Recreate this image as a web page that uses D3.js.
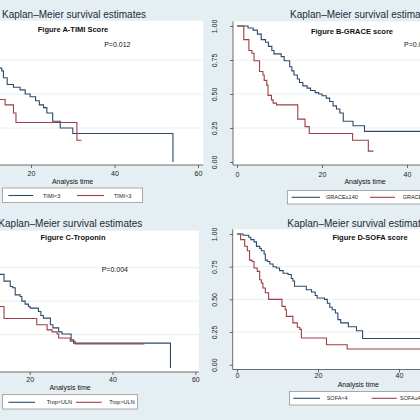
<!DOCTYPE html>
<html>
<head>
<meta charset="utf-8">
<script src="https://cdn.jsdelivr.net/npm/d3@7"></script>
<style>
  html, body { margin: 0; padding: 0; background: #e5eef2; overflow: hidden; }
  svg { display: block; font-family: "Liberation Sans", Arial, sans-serif; }
</style>
</head>
<body>
<div id="chart"></div>
<script>
// Kaplan-Meier estimates, as [analysis time, survival]
const timiLow = [[0, 1], [1.5, 0.98], [2.5, 0.96], [3.5, 0.94], [4.5, 0.92], [5.5, 0.9], [6.5, 0.87], [7.5, 0.84], [8.5, 0.81], [9.5, 0.78], [10.5, 0.75], [11.5, 0.72], [12.2, 0.69], [13.0, 0.67], [13.4, 0.62], [14.3, 0.57], [15.8, 0.55], [17.4, 0.53], [18.6, 0.5], [19.8, 0.48], [21.1, 0.45], [22.0, 0.42], [23.0, 0.4], [23.8, 0.36], [25.2, 0.3], [27.0, 0.25], [30.0, 0.21], [54, 0]];
const timiHigh = [[0, 1], [1.5, 0.93], [2.5, 0.86], [3.5, 0.79], [4.5, 0.72], [5.5, 0.66], [6.5, 0.61], [7.5, 0.57], [9.0, 0.53], [11.0, 0.49], [12.2, 0.46], [13.8, 0.42], [15.8, 0.36], [16.4, 0.29], [31.0, 0.16], [32.1, 0.16]];

const graceLow = [[0, 1], [2.6, 0.985], [3.8, 0.97], [4.8, 0.94], [5.7, 0.9], [6.7, 0.88], [7.4, 0.85], [8.2, 0.82], [8.7, 0.795], [10.4, 0.775], [11.1, 0.745], [12.4, 0.7], [12.9, 0.67], [13.4, 0.64], [14.2, 0.61], [14.7, 0.585], [15.5, 0.56], [16.5, 0.543], [17.3, 0.526], [18.4, 0.51], [19.2, 0.5], [20.0, 0.487], [21.0, 0.47], [21.8, 0.445], [22.6, 0.413], [23.4, 0.39], [24.2, 0.36], [25.0, 0.3], [27.3, 0.267], [30.0, 0.225], [54, 0.225]];
const graceHigh = [[0, 1], [1.6, 0.9], [2.8, 0.82], [3.5, 0.8], [4.0, 0.745], [5.3, 0.665], [6.1, 0.64], [6.4, 0.6], [7.0, 0.565], [7.3, 0.49], [8.1, 0.457], [8.5, 0.433], [9.3, 0.42], [14.3, 0.315], [16.0, 0.26], [17.0, 0.21], [27.2, 0.16], [30.9, 0.08], [32.1, 0.08]];

const tropLow = [[0, 1], [1.5, 0.98], [2.5, 0.96], [3.5, 0.94], [4.5, 0.92], [5.5, 0.89], [6.5, 0.86], [7.5, 0.83], [8.5, 0.8], [9.5, 0.77], [10.5, 0.75], [11.5, 0.72], [12.6, 0.7], [13.8, 0.65], [15.3, 0.61], [15.9, 0.6], [16.5, 0.547], [17.7, 0.535], [18.1, 0.5], [18.9, 0.478], [19.7, 0.46], [20.1, 0.448], [22.1, 0.423], [22.7, 0.393], [23.3, 0.373], [25.0, 0.323], [25.6, 0.3], [27.0, 0.27], [27.8, 0.254], [30.0, 0.21], [30.6, 0.186], [54, 0]];
const tropHigh = [[0, 1], [1.5, 0.93], [2.5, 0.86], [3.5, 0.79], [4.5, 0.72], [5.5, 0.66], [6.5, 0.61], [7.5, 0.57], [9.0, 0.53], [11.0, 0.49], [12.3, 0.46], [13.8, 0.37], [21.7, 0.323], [24.2, 0.285], [25.4, 0.27], [26.6, 0.254], [27.0, 0.224], [29.8, 0.2], [31.0, 0.18], [47.7, 0.18]];

const sofaLow = [[0, 1], [1.5, 0.99], [2.9, 0.975], [3.4, 0.957], [4.2, 0.94], [4.8, 0.905], [5.6, 0.89], [6.0, 0.872], [6.7, 0.847], [7.0, 0.8], [7.5, 0.79], [8.1, 0.77], [8.9, 0.75], [9.7, 0.74], [10.5, 0.72], [11.4, 0.7], [12.6, 0.69], [13.4, 0.66], [13.8, 0.64], [14.2, 0.6], [17.1, 0.574], [18.4, 0.556], [19.3, 0.53], [19.8, 0.51], [21.6, 0.5], [22.3, 0.47], [22.9, 0.44], [23.5, 0.42], [24.3, 0.395], [24.9, 0.345], [25.6, 0.32], [27.5, 0.29], [29.5, 0.26], [31.0, 0.2], [54, 0.2]];
const sofaHigh = [[0, 1], [0.9, 0.957], [1.9, 0.906], [2.55, 0.872], [3.1, 0.8], [3.7, 0.79], [4.2, 0.74], [5.0, 0.714], [5.6, 0.65], [6.0, 0.625], [6.4, 0.587], [7.0, 0.55], [7.8, 0.5], [11.1, 0.446], [11.9, 0.42], [12.2, 0.37], [13.8, 0.32], [14.9, 0.286], [15.5, 0.27], [15.9, 0.204], [22.1, 0.153], [27.2, 0.12], [50, 0.12]];

const xTicks = [0, 20, 40, 60];
const yTicks = [0, 0.25, 0.5, 0.75, 1];
const gridTicks = [0.25, 0.5, 0.75];

const mainTitle = 'Kaplan\u2013Meier survival estimates';
const figureTitles = ['Figure A-TIMI Score', 'Figure B-GRACE score', 'Figure C-Troponin', 'Figure D-SOFA score'];
const pValues = ['P=0.012', 'P=0.001', 'P=0.004', null];
const legendLabels = [
  ['TIMI<3', 'TIMI>3'],
  ['GRACE\u2264140', 'GRACE>140'],
  ['Trop<ULN', 'Trop>ULN'],
  ['SOFA<4', 'SOFA\u22654']
];
const series = [[timiLow, timiHigh], [graceLow, graceHigh], [tropLow, tropHigh], [sofaLow, sofaHigh]];
const curveColors = ['#2c4b6b', '#9c3f46'];

// the picture is a crop of a 2x2 grid: left panels lose their y axis, right panels their far end
const layout = [
  { x: [-52.5, 198], y: [162, 26], plot: [-58, 20.7, 203.3, 165],
    title: [146, 17.5, 'end'], sub: [73, 31.5], p: [104.2, 47.3], axisTitle: [72.5, 184], tickY: 176,
    legend: { box: [2.3, 188, 140.4, 14.6], lineY: 195.5, keys: [[8.3, 33.3, 43], [77, 104, 114]] } },
  { x: [237, 492], y: [162, 26], plot: [233, 21.5, 497, 165], yLab: 15.7,
    title: [290, 18, 'start'], sub: [352, 33.5], p: [404, 46.7], axisTitle: [365, 184.3], tickY: 177,
    legend: { box: [287.3, 190.7, 155.4, 13.3], lineY: 197.3, keys: [[291.7, 320, 326], [370, 395, 402.7]] } },
  { x: [-53.1, 195.3], y: [368, 234.3], plot: [-59, 230.7, 199, 372],
    title: [142.3, 227.3, 'end'], sub: [73, 240.3], p: [101.7, 272], axisTitle: [70, 390], tickY: 382,
    legend: { box: [2.7, 394.3, 134.6, 14.7], lineY: 402.3, keys: [[8.3, 35, 46.7], [76, 101.7, 109.3]] } },
  { x: [237, 480], y: [364.7, 234], plot: [232.7, 229.3, 497, 369.5], yLab: 15.4,
    title: [287.3, 227.3, 'start'], sub: [370, 240], p: null, axisTitle: [358.3, 386.7], tickY: 378,
    legend: { box: [289.3, 391.7, 138, 13.3], lineY: 398.3, keys: [[293.3, 320, 326.7], [371.7, 396.7, 400]] } }
];

const width = 420;
const height = 420;

const svg = d3.select('#chart')
  .append('svg')
  .attr('width', width)
  .attr('height', height);

svg.append('rect')
  .attr('width', width)
  .attr('height', height)
  .attr('fill', '#e5eef2');

function drawPanel(g, i) {
  const L = layout[i];
  const x = d3.scaleLinear().domain([0, 60]).range(L.x);
  const y = d3.scaleLinear().domain([0, 1]).range(L.y);
  const [pl, pt, pr, pb] = L.plot;

  g.append('rect')
    .attr('x', pl)
    .attr('y', pt)
    .attr('width', pr - pl)
    .attr('height', pb - pt)
    .attr('fill', '#fff');

  g.append('g')
    .selectAll('line')
    .data(gridTicks)
    .join('line')
    .attr('x1', pl)
    .attr('x2', pr)
    .attr('y1', (d) => y(d))
    .attr('y2', (d) => y(d))
    .attr('stroke', '#e4eaee')
    .attr('stroke-width', 0.8);

  // x axis
  g.append('g')
    .attr('transform', `translate(0,${pb})`)
    .call(d3.axisBottom(x).tickValues(xTicks).tickSize(3).tickPadding(L.tickY - pb - 8))
    .call((a) => a.select('.domain').remove())
    .call((a) => a.selectAll('.tick line').attr('stroke', '#333').attr('stroke-width', 0.7))
    .call((a) => a.selectAll('.tick text').attr('font-size', 7).attr('fill', '#222')
      .attr('font-family', '"Liberation Sans", Arial, sans-serif'));

  // y axis
  g.append('g')
    .attr('transform', `translate(${pl},0)`)
    .call(d3.axisLeft(y).tickValues(yTicks).tickFormat(d3.format('.2f')).tickSize(3))
    .call((a) => a.select('.domain').remove())
    .call((a) => a.selectAll('.tick line').attr('stroke', '#333').attr('stroke-width', 0.7))
    .call((a) => a.selectAll('.tick text')
      .attr('x', null)
      .attr('dy', null)
      .attr('text-anchor', 'middle')
      .attr('transform', `translate(${-(L.yLab || 15.5)},0) rotate(-90)`)
      .attr('font-size', 7)
      .attr('fill', '#222')
      .attr('font-family', '"Liberation Sans", Arial, sans-serif'));

  g.append('line')
    .attr('x1', pl).attr('x2', pr).attr('y1', pb).attr('y2', pb)
    .attr('stroke', '#333').attr('stroke-width', 0.7);
  g.append('line')
    .attr('x1', pl).attr('x2', pl).attr('y1', pt).attr('y2', pb)
    .attr('stroke', '#333').attr('stroke-width', 0.7);

  const line = d3.line()
    .x((d) => x(d[0]))
    .y((d) => y(d[1]))
    .curve(d3.curveStepAfter);

  g.append('g')
    .selectAll('path')
    .data(series[i])
    .join('path')
    .attr('d', line)
    .attr('fill', 'none')
    .attr('stroke', (d, k) => curveColors[k])
    .attr('stroke-width', 1.1);

  g.append('text')
    .attr('x', L.title[0])
    .attr('y', L.title[1])
    .attr('text-anchor', L.title[2])
    .attr('font-size', 10)
    .attr('fill', '#1d2b38')
    .text(mainTitle);

  g.append('text')
    .attr('x', L.sub[0])
    .attr('y', L.sub[1])
    .attr('text-anchor', 'middle')
    .attr('font-size', 7.5)
    .attr('font-weight', 'bold')
    .attr('fill', '#111')
    .text(figureTitles[i]);

  if (pValues[i] && L.p) {
    g.append('text')
      .attr('x', L.p[0])
      .attr('y', L.p[1])
      .attr('font-size', 7)
      .attr('fill', '#111')
      .text(pValues[i]);
  }

  g.append('text')
    .attr('x', L.axisTitle[0])
    .attr('y', L.axisTitle[1])
    .attr('text-anchor', 'middle')
    .attr('font-size', 7)
    .attr('fill', '#111')
    .text('Analysis time');

  // legend
  const lg = L.legend;
  g.append('rect')
    .attr('x', lg.box[0])
    .attr('y', lg.box[1])
    .attr('width', lg.box[2])
    .attr('height', lg.box[3])
    .attr('fill', '#fff')
    .attr('stroke', '#777')
    .attr('stroke-width', 0.6);

  const keys = g.append('g')
    .selectAll('g')
    .data(lg.keys)
    .join('g');

  keys.append('line')
    .attr('x1', (d) => d[0])
    .attr('x2', (d) => d[1])
    .attr('y1', lg.lineY)
    .attr('y2', lg.lineY)
    .attr('stroke', (d, k) => curveColors[k])
    .attr('stroke-width', 1.1);

  keys.append('text')
    .attr('x', (d) => d[2])
    .attr('y', lg.lineY + 2)
    .attr('font-size', 5.5)
    .attr('fill', '#222')
    .text((d, k) => legendLabels[i][k]);
}

layout.forEach((L, i) => drawPanel(svg.append('g'), i));
</script>
</body>
</html>
